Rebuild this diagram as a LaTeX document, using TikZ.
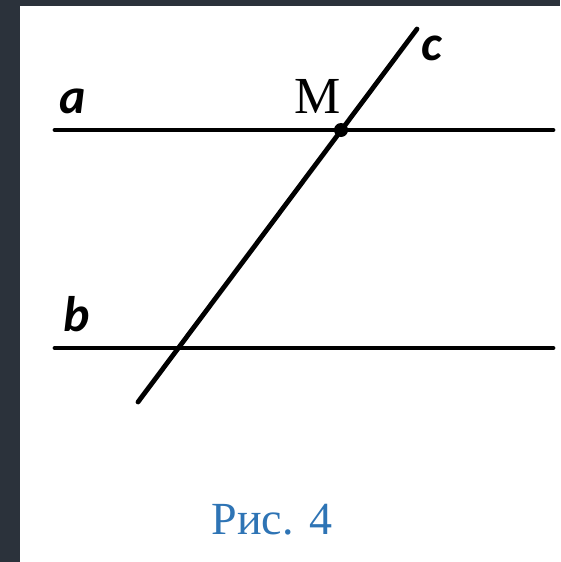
\documentclass[tikz,border=0pt]{standalone}
\usepackage{fontspec}
\setmainfont{Carlito}
\newfontfamily\serifM{Liberation Serif}
\definecolor{frame}{HTML}{2B323B}
\definecolor{capblue}{HTML}{2E74B5}
\tikzset{
  geoline/.style={line width=4.8pt, line cap=round},
  lbl/.style={inner sep=0pt, font=\fontsize{50}{50}\selectfont\bfseries\itshape},
}
\begin{document}
\begin{tikzpicture}[x=1pt,y=-1pt]
\fill[frame] (0,0) rectangle (560,562);
\fill[white] (20,6) rectangle (560,562);
\useasboundingbox (0,0) rectangle (560,562);
\coordinate (aL) at (55,130);
\coordinate (aR) at (553,130);
\coordinate (bL) at (55,348);
\coordinate (bR) at (553,348);
\coordinate (cB) at (138,402);
\coordinate (cT) at (417,29);
\draw[geoline] (aL) -- (aR);
\draw[geoline] (bL) -- (bR);
\draw[geoline] (cB) -- (cT);
\fill (341,130) circle (7pt);
\node[lbl] (la) at (73,101) {a};
\node[lbl] (lb) at (77,314) {b};
\node[lbl] (lc) at (432,48) {c};
\node[inner sep=0pt, font=\fontsize{52}{52}\selectfont\serifM] (lm) at (318,96) {M};
\node[inner sep=0pt, text=capblue, font=\fontsize{46}{46}\selectfont\serifM] (cap) at (272,520) {Рис. 4};
\end{tikzpicture}
\end{document}
